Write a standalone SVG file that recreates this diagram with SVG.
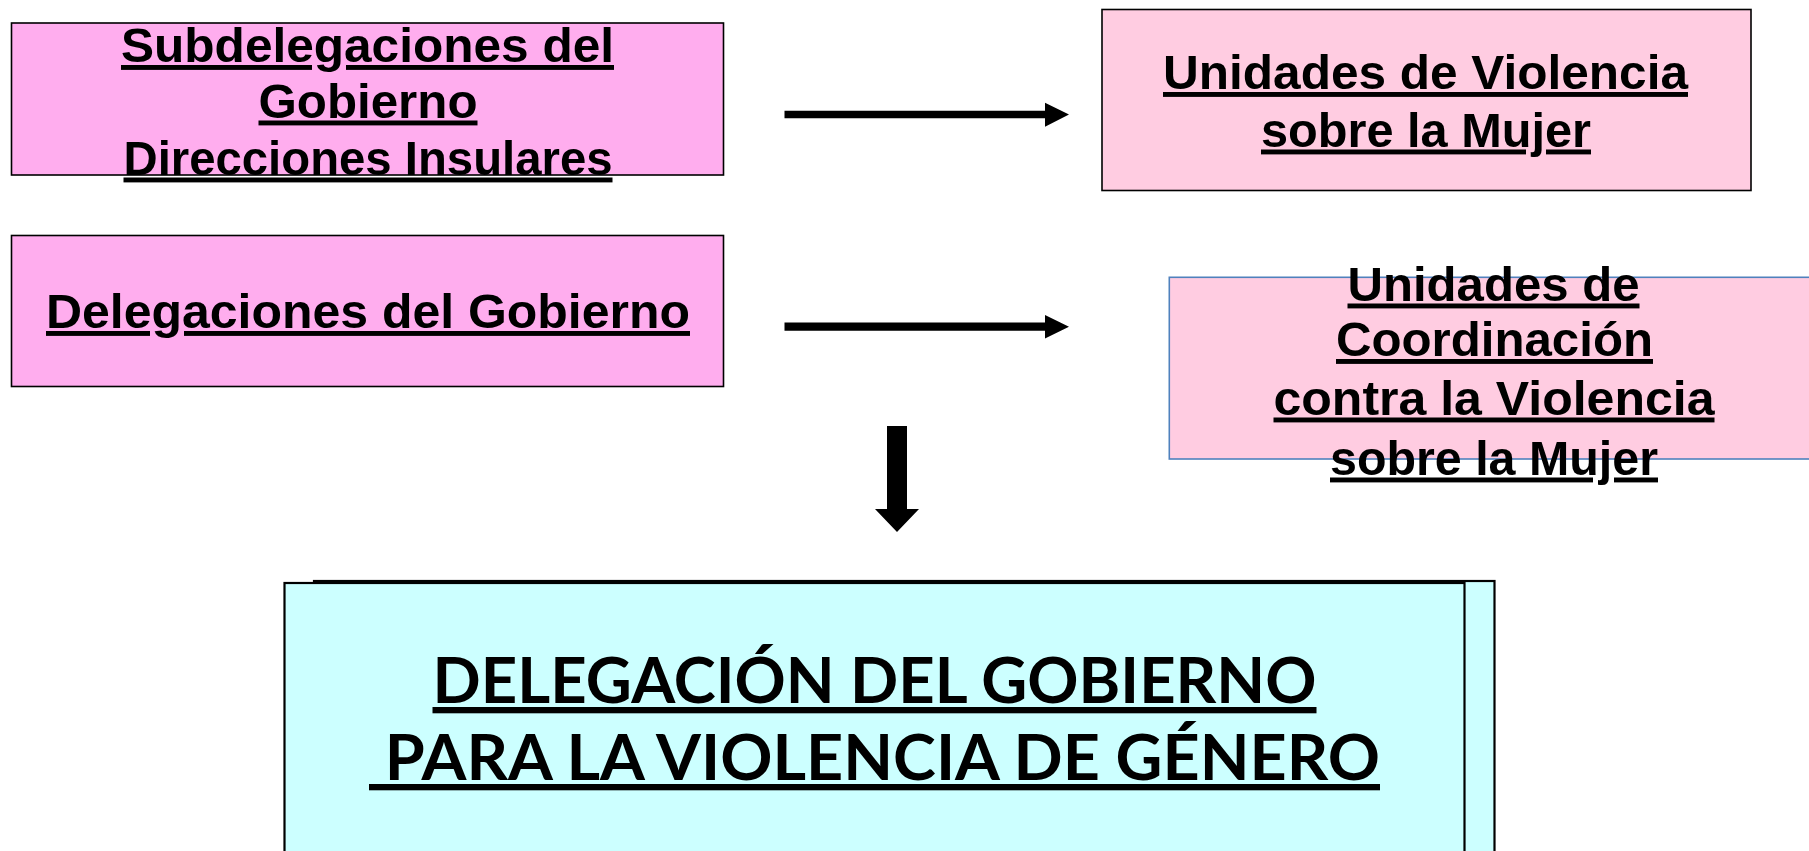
<svg xmlns="http://www.w3.org/2000/svg" width="1809" height="851" viewBox="0 0 1809 851">
<style>
.box{stroke:#000;stroke-width:1.6}
.pink{fill:#FFADEE}
.lpink{fill:#FFCCE1}
.cyan{fill:#CCFFFF;stroke:#000;stroke-width:2.2}
.t{font-family:"Liberation Sans",Arial,sans-serif;font-weight:bold;font-size:49px;text-anchor:middle;text-decoration:underline;fill:#000}
.big{font-family:Lato,"DejaVu Sans",sans-serif;font-weight:bold;font-size:63px;fill:#000;text-decoration:underline;white-space:pre}
.arrow{fill:#000}
</style>
<rect width="1809" height="851" fill="#fff"/>
<g id="subdelegaciones">
<rect class="box pink" x="11.5" y="23" width="712" height="152"/>
<text class="t" x="367.5" y="62" textLength="493" lengthAdjust="spacingAndGlyphs">Subdelegaciones del</text>
<text class="t" x="368" y="117.5" textLength="219" lengthAdjust="spacingAndGlyphs">Gobierno</text>
<text class="t" x="368" y="174.5" textLength="489" lengthAdjust="spacingAndGlyphs">Direcciones Insulares</text>
</g>
<g id="delegaciones">
<rect class="box pink" x="11.5" y="235.5" width="712" height="151"/>
<text class="t" x="368" y="328" textLength="644" lengthAdjust="spacingAndGlyphs">Delegaciones del Gobierno</text>
</g>
<g id="unidades-violencia">
<rect class="box lpink" x="1102" y="9.5" width="649" height="181"/>
<text class="t" x="1425.5" y="89" textLength="525" lengthAdjust="spacingAndGlyphs">Unidades de Violencia</text>
<text class="t" x="1426" y="146.5" textLength="330" lengthAdjust="spacingAndGlyphs">sobre la Mujer</text>
</g>
<g id="unidades-coordinacion">
<rect x="1169.3" y="277.3" width="660" height="181.7" fill="#FFCCE1" stroke="#4F81BD" stroke-width="1.6"/>
<text class="t" x="1493.5" y="300.5" textLength="292" lengthAdjust="spacingAndGlyphs">Unidades de</text>
<text class="t" x="1494.5" y="356" textLength="317" lengthAdjust="spacingAndGlyphs">Coordinación</text>
<text class="t" x="1494" y="414.5" textLength="441" lengthAdjust="spacingAndGlyphs">contra la Violencia</text>
<text class="t" x="1494" y="474.5" textLength="328" lengthAdjust="spacingAndGlyphs">sobre la Mujer</text>
</g>
<g id="delegacion-gobierno">
<rect class="cyan" x="314" y="581" width="1180.5" height="290"/>
<rect class="cyan" x="284.5" y="583" width="1180" height="290"/>
<text class="big" x="432.5" y="703" textLength="884" lengthAdjust="spacingAndGlyphs">DELEGACIÓN DEL GOBIERNO</text>
<text class="big" x="369" y="780" textLength="1011" lengthAdjust="spacingAndGlyphs"> PARA LA VIOLENCIA DE GÉNERO</text>
</g>
<g id="connectors">
<path class="arrow" d="M784.5 110.7H1045V102.7L1069 114.5L1045 126.7V118.3H784.5Z"/>
<path class="arrow" d="M784.5 322.5H1045V315L1069 326.7L1045 338.4V330.8H784.5Z"/>
<path class="arrow" d="M887 426H907V509H919L897 532L875 509H887Z"/>
</g>
</svg>
